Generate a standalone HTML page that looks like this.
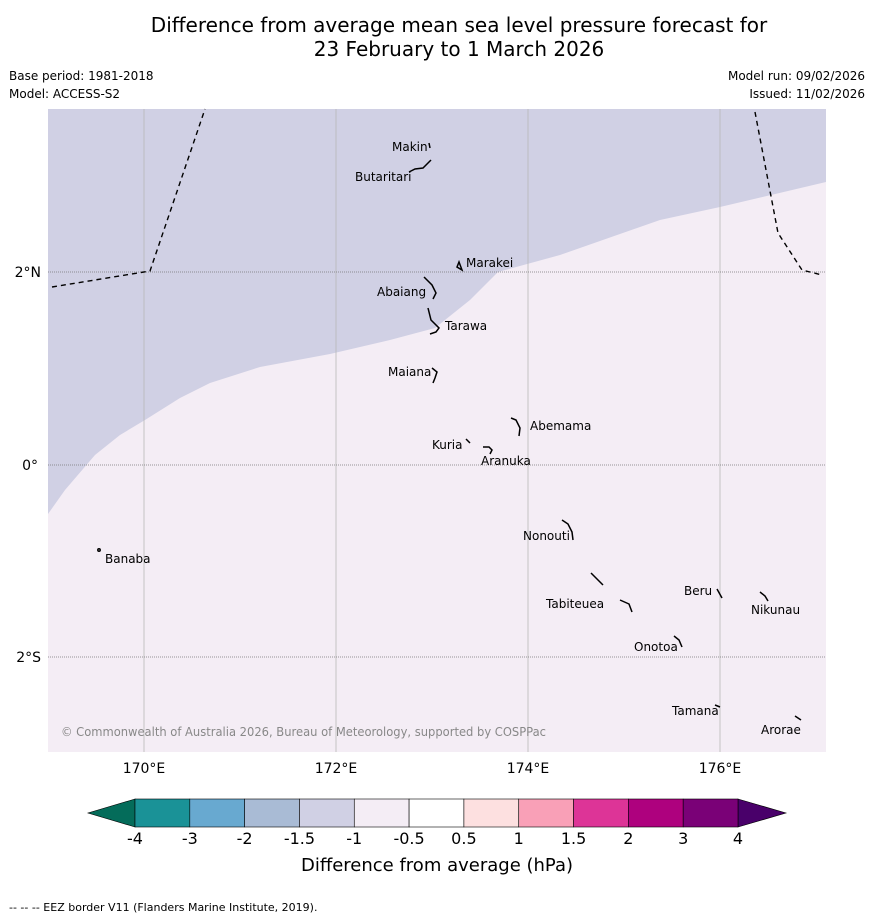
<!DOCTYPE html>
<html><head><meta charset="utf-8"><style>
body{margin:0;background:#fff;font-family:"Liberation Sans","DejaVu Sans",sans-serif;}
svg text{font-family:"DejaVu Sans","Liberation Sans",sans-serif;}
</style></head><body>
<svg width="873" height="919" viewBox="0 0 873 919" xmlns="http://www.w3.org/2000/svg">
<text x="459" y="32" font-size="20" text-anchor="middle">Difference from average mean sea level pressure forecast for</text>
<text x="459" y="56" font-size="20" text-anchor="middle">23 February to 1 March 2026</text>
<text x="9" y="80" font-size="12">Base period: 1981-2018</text>
<text x="9" y="98" font-size="12">Model: ACCESS-S2</text>
<text x="865" y="80" font-size="12" text-anchor="end">Model run: 09/02/2026</text>
<text x="865" y="98" font-size="12" text-anchor="end">Issued: 11/02/2026</text>
<g>
<rect x="48" y="109" width="778" height="643" fill="#f4edf5"/>
<polygon points="48,109 826,109 826,182 720,207 660,220 560,255 498,272 470,300 435,328 390,340 330,354 260,367 210,383 180,398 145,420 120,435 95,455 65,490 48,514" fill="#d0d0e4"/>
<g stroke="#b8b8b8" stroke-width="0.8">
<line x1="144" y1="109" x2="144" y2="752"/><line x1="336" y1="109" x2="336" y2="752"/><line x1="528" y1="109" x2="528" y2="752"/><line x1="720" y1="109" x2="720" y2="752"/></g>
<g stroke="#777" stroke-width="0.7" stroke-dasharray="1,1">
<line x1="48" y1="272" x2="826" y2="272"/><line x1="48" y1="465" x2="826" y2="465"/><line x1="48" y1="657" x2="826" y2="657"/></g>
<g fill="none" stroke="#000" stroke-width="1.4" stroke-dasharray="5,4">
<polyline points="52,287 150,271 205,109"/><polyline points="755,112 778,233 802,270 822,275"/></g>
<g fill="none" stroke="#000" stroke-width="1.5">
<path d="M429,143 l1,5"/><path d="M409,172 l6,-3 8,-1 8,-8"/><path d="M457,267 l2,-5 3,8 z"/>
<path d="M424,277 l8,8 4,8 -3,6"/><path d="M428,308 l3,12 8,8 -3,4 -6,2"/><path d="M432,368 l5,4 -2,6 -2,5"/>
<path d="M511,418 l5,2 4,8 -1,8"/><path d="M466,439 l4,4"/><path d="M483,447 l6,0 3,3 -2,4"/>
<path d="M562,520 l6,4 4,8 1,8"/><path d="M591,573 l6,6 6,6"/><path d="M620,600 l9,4 3,8"/>
<path d="M674,636 l5,4 3,7"/><path d="M717,589 l5,9"/><path d="M760,592 l5,4 3,5"/><path d="M715,705 l5,2"/><path d="M795,716 l6,4"/>
<circle cx="99" cy="550" r="1.2"/></g>
<g font-size="12">
<text x="392" y="151">Makin</text><text x="355" y="181">Butaritari</text><text x="466" y="267">Marakei</text>
<text x="377" y="296">Abaiang</text><text x="445" y="330">Tarawa</text><text x="388" y="376">Maiana</text>
<text x="530" y="430">Abemama</text><text x="432" y="449">Kuria</text><text x="481" y="465">Aranuka</text>
<text x="523" y="540">Nonouti</text><text x="105" y="563">Banaba</text><text x="684" y="595">Beru</text>
<text x="546" y="608">Tabiteuea</text><text x="751" y="614">Nikunau</text><text x="634" y="651">Onotoa</text>
<text x="672" y="715">Tamana</text><text x="761" y="734">Arorae</text></g>
<text x="61" y="736" font-size="12" fill="#888" textLength="485" lengthAdjust="spacingAndGlyphs">© Commonwealth of Australia 2026, Bureau of Meteorology, supported by COSPPac</text>
</g>
<g font-size="14" text-anchor="middle">
<text x="144" y="773">170°E</text><text x="336" y="773">172°E</text><text x="528" y="773">174°E</text><text x="720" y="773">176°E</text></g>
<g font-size="14" text-anchor="end">
<text x="41" y="277">2°N</text><text x="38" y="470">0°</text><text x="41" y="662">2°S</text></g>
<g id="cbar"></g>
<text x="437" y="871" font-size="18" text-anchor="middle">Difference from average (hPa)</text>
<text x="9" y="911" font-size="11">--  --  -- EEZ border V11 (Flanders Marine Institute, 2019).</text>
</svg>
<script>
const levels=["-4","-3","-2","-1.5","-1","-0.5","0.5","1","1.5","2","3","4"];
const colors=["#1a9297","#68a9d0","#a9bbd5","#d0d0e4","#f4edf5","#ffffff","#fde0e0","#f9a0b7","#dd3497","#ae017e","#7a0177"];
const extColors=["#046c5a","#49006a"];
const NS="http://www.w3.org/2000/svg";
const g=document.getElementById('cbar');
const x0=135,x1=738,y0=799,h=28,w=(x1-x0)/colors.length;
function mk(t,a){const e=document.createElementNS(NS,t);for(const k in a)e.setAttribute(k,a[k]);g.appendChild(e);return e;}
let lt=mk('polygon',{points:`${x0},${y0} 88,${y0+h/2} ${x0},${y0+h}`,fill:extColors[0],stroke:'#000','stroke-width':0.6});


let rt=mk('polygon',{points:`${x1},${y0} 786,${y0+h/2} ${x1},${y0+h}`,fill:extColors[1],stroke:'#000','stroke-width':0.6});


colors.forEach((c,i)=>{
 const r=mk('rect',{x:x0+i*w,y:y0,width:w,height:h,fill:c,stroke:'#000','stroke-width':0.6});
 
 
});
levels.forEach((l,i)=>{
 const t=mk('text',{x:x0+i*w,y:844,'font-size':16,'text-anchor':'middle'});
 t.textContent=l;
 
 
});
</script>
</body></html>
